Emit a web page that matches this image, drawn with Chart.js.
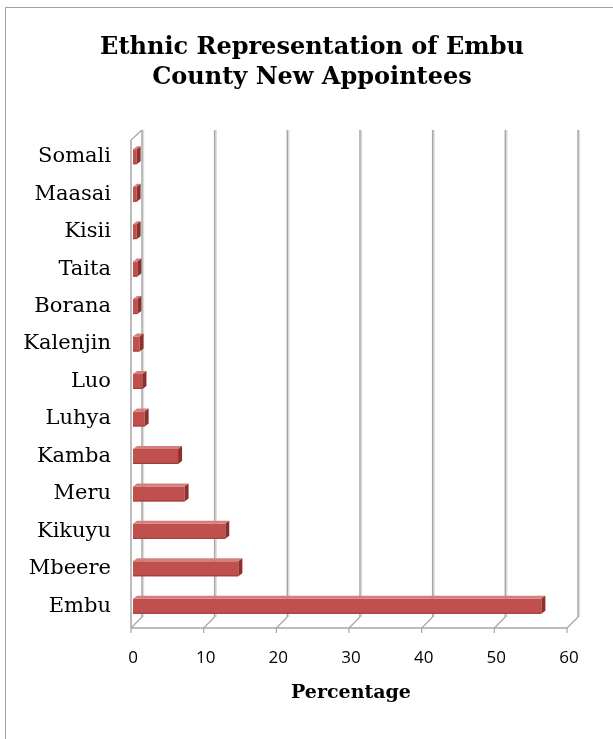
<!DOCTYPE html>
<html>
<head>
<meta charset="utf-8">
<script src="https://cdn.jsdelivr.net/npm/chart.js@4.4.0/dist/chart.umd.min.js"></script>
<style>
    html, body { margin: 0; padding: 0; background: #fff; }
    #wrap { width: 613px; height: 739px; position: relative; }
</style>
</head>
<body>
<div id="wrap"><canvas id="ethnicChart"></canvas></div>
<script>
// Ethnic groups (top to bottom as in the chart) and their share of appointees
const groups = ['Somali', 'Maasai', 'Kisii', 'Taita', 'Borana', 'Kalenjin', 'Luo',
    'Luhya', 'Kamba', 'Meru', 'Kikuyu', 'Mbeere', 'Embu'];
const percentages = [0.5, 0.5, 0.5, 0.6, 0.6, 0.9, 1.3, 1.6, 6.2, 7.1, 12.7, 14.5, 56.2];
const xMin = 0;
const xMax = 60;
const xStep = 10;

const serif = '"DejaVu Serif", serif';

// frame, back wall, side wall and floor of the 3-D plot
const wallsPlugin = {
    id: 'walls',
    beforeDraw(chart) {
        const ctx = chart.ctx;
        ctx.save();
        ctx.fillStyle = '#fff';
        ctx.fillRect(0, 0, chart.width, chart.height);
        ctx.strokeStyle = '#a3a3a3';
        ctx.lineWidth = 1;
        ctx.strokeRect(5.5, 7.5, chart.width + 20, chart.height + 20);
        ctx.restore();
    },
    beforeDatasetsDraw(chart) {
        const ctx = chart.ctx;
        const xs = chart.scales.x;
        const { top, bottom } = chart.chartArea;
        const fx = -2, fy = 3;   // front edge offset
        const bx = 9, by = -8;   // back wall offset
        const x0 = xs.getPixelForValue(xMin);
        const xEnd = xs.getPixelForValue(xMax);

        const line = (ax, ay, cx, cy, color, w) => {
            ctx.strokeStyle = color;
            ctx.lineWidth = w;
            ctx.beginPath();
            ctx.moveTo(ax, ay);
            ctx.lineTo(cx, cy);
            ctx.stroke();
        };

        ctx.save();
        for (let v = xMin; v <= xMax; v += xStep) {
            const px = xs.getPixelForValue(v);
            // light shadow then the grid line on the back wall
            line(px + bx + 1.5, top + by, px + bx + 1.5, bottom + by, '#dedede', 1.5);
            line(px + bx, top + by, px + bx, bottom + by, '#a6a6a6', 1.5);
            // floor diagonals and tick marks
            line(px + fx, bottom + fy, px + bx, bottom + by, '#a6a6a6', 1.2);
            line(px + fx, bottom + fy, px + fx, bottom + fy + 5, '#a6a6a6', 1.2);
        }
        // front floor edge
        line(x0 + fx, bottom + fy, xEnd + fx, bottom + fy, '#a6a6a6', 1.5);
        // side wall
        line(x0 + fx, top + 2, x0 + fx, bottom + fy, '#a6a6a6', 1.5);
        line(x0 + fx, top + 2, x0 + bx, top + by, '#a6a6a6', 1.2);
        ctx.restore();
    },
    afterDatasetsDraw(chart) {
        const ctx = chart.ctx;
        const dx = 4, dy = -3;
        ctx.save();
        chart.getDatasetMeta(0).data.forEach(bar => {
            const { x, y, base, height } = bar.getProps(['x', 'y', 'base', 'height'], true);
            const t = y - height / 2, b = y + height / 2;
            // top face
            ctx.fillStyle = '#d47f7c';
            ctx.beginPath();
            ctx.moveTo(base, t);
            ctx.lineTo(base + dx, t + dy);
            ctx.lineTo(x + dx, t + dy);
            ctx.lineTo(x, t);
            ctx.closePath();
            ctx.fill();
            // end face
            ctx.fillStyle = '#8e2f2c';
            ctx.beginPath();
            ctx.moveTo(x, t);
            ctx.lineTo(x + dx, t + dy);
            ctx.lineTo(x + dx, b + dy);
            ctx.lineTo(x, b);
            ctx.closePath();
            ctx.fill();
            // bottom edge shading
            ctx.strokeStyle = '#9c3b38';
            ctx.lineWidth = 1;
            ctx.beginPath();
            ctx.moveTo(base, b - 0.5);
            ctx.lineTo(x, b - 0.5);
            ctx.stroke();
        });
        ctx.restore();
    }
};

const ctx = document.getElementById('ethnicChart').getContext('2d');
const ethnicChart = new Chart(ctx, {
    type: 'bar',
    data: {
        labels: groups,
        datasets: [{
            label: 'Percentage',
            data: percentages,
            backgroundColor: '#c0504d',
            borderWidth: 0,
            barPercentage: 0.4,
            categoryPercentage: 1
        }]
    },
    options: {
        indexAxis: 'y',
        responsive: true,
        maintainAspectRatio: false,
        animation: false,
        layout: {
            padding: { left: 11, right: 0, top: 0, bottom: 35 }
        },
        plugins: {
            legend: { display: false },
            tooltip: { enabled: false },
            title: {
                display: true,
                text: ['Ethnic Representation of Embu', 'County New Appointees'],
                color: '#000',
                font: { family: serif, size: 24, weight: 'bold', lineHeight: 1.25 },
                padding: { top: 33, bottom: 45 }
            }
        },
        scales: {
            x: {
                min: xMin,
                max: xMax,
                grid: { display: false, drawTicks: false },
                border: { display: false },
                ticks: {
                    stepSize: xStep,
                    color: '#000',
                    padding: 23,
                    font: { family: '"Open Sans", sans-serif', size: 17 }
                },
                title: {
                    display: true,
                    text: 'Percentage',
                    color: '#000',
                    font: { family: serif, size: 19, weight: 'bold' },
                    padding: { top: 0, bottom: 0 }
                },
                afterFit(scale) {
                    scale.height = 79;
                }
            },
            y: {
                grid: { display: false, drawTicks: false },
                border: { display: false },
                ticks: {
                    color: '#000',
                    padding: 22,
                    font: { family: serif, size: 21 }
                },
                afterFit(scale) {
                    scale.width = 122;
                }
            },
            // empty strip on the right so the plot ends where the original does
            rightGap: {
                type: 'linear',
                position: 'right',
                display: true,
                grid: { display: false, drawTicks: false },
                border: { display: false },
                ticks: { display: false },
                afterFit(scale) {
                    scale.width = 44;
                }
            }
        }
    },
    plugins: [wallsPlugin]
});
</script>
</body>
</html>
